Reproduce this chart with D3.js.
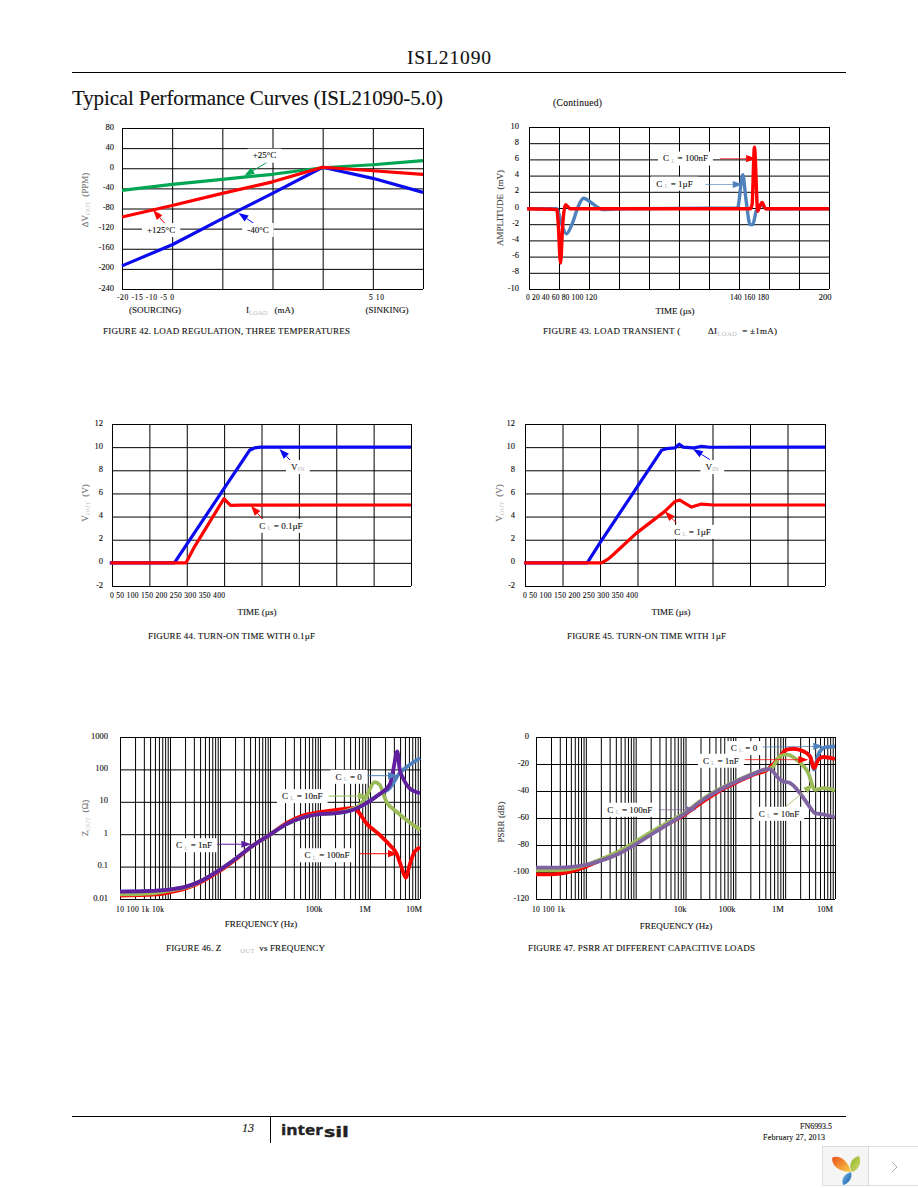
<!DOCTYPE html>
<html><head><meta charset="utf-8">
<script src="https://cdn.jsdelivr.net/npm/d3@7"></script>
<style>
html,body{margin:0;padding:0;background:#fff}
svg{display:block}
text{font-family:"Liberation Serif",serif;fill:#111;stroke:#111;stroke-width:.12}
</style></head><body>
<svg id="page" width="918" height="1188"></svg>
<script>
// ---- Figure 42: load regulation
const fig42Load = [-20,-15,-10,-5,0,5,10];
const fig42Blue = [-194,-152,-100,-50,2,-20,-48];
const fig42Red = [-97,-74,-50,-27,2,-5,-12];
const fig42Green = [-44,-32,-22,-12,1,7,15];
const fig42YTicks = [80,40,0,-40,-80,-120,-160,-200,-240];
const fig42Left = ["-20","-15","-10","-5","0"];
const fig42Right = ["5","10"];
const fig42Notes = [
 {label:"+25°C", s:"green", at:[-5.8,25], from:[-5.45,13], to:[-7.8,-15]},
 {label:"+125°C", s:"red", at:[-16.1,-123], from:[-15.6,-113], to:[-16.9,-83]},
 {label:"-40°C", s:"blue", at:[-6.45,-122.6], from:[-6.6,-113], to:[-8.4,-89]}
];
// ---- Figure 43: load transient
const fig43RedT = [-1.3,18.6,19.5,21,22.5,24.4,27.5,60,147.4,148.7,150.3,152.5,153,155.4,157.6,200];
const fig43RedV = [-0.1,-0.2,-2,-6.8,-2,0.4,-0.1,-0.1,-0.1,0.4,7.5,-0.4,-0.2,0.7,-0.1,-0.1];
const fig43BlueT = [-1.3,18.6,21.5,24.9,28.9,32.6,36.4,40.4,44.8,48.8,60,139,142.5,144.7,147.4,149.2,151.4,154.7,158,200];
const fig43BlueV = [-0.1,-0.1,-1.8,-3.2,-1.9,0.1,1.2,0.8,0.2,-0.2,-0.1,0,4.1,1,-2.05,-2.05,-0.4,0.4,-0.1,-0.1];
const fig43YTicks = [10,8,6,4,2,0,-2,-4,-6,-8,-10];
const fig43Row1 = ["0","20","40","60","80","100","120"];
const fig43Row2 = ["140","160","180"];
const fig43Row3 = ["200"];
const fig43Notes = [
 {cl:"100nF", s:"red", at:[104.3,6.1], from:[127.4,6.1], to:[151.4,6.1]},
 {cl:"1µF", s:"blue", at:[97,3], from:[117.6,2.9], to:[142.5,2.9]}
];
// ---- Figure 44: turn-on 0.1uF
const fig44BlueT = [-3,83.5,184,190.6,199,400];
const fig44BlueV = [0,0,9.73,9.93,10,10];
const fig44RedT = [-2,99,110.5,149.7,158.6,172.8,400];
const fig44RedV = [0,0,1.41,5.54,4.97,4.99,5];
const turnYTicks = [12,10,8,6,4,2,0,-2];
const turnRow = ["0","50","100","150","200","250","300","350","400"];
const fig44Notes = [
 {label:"VIN", sub:true, s:"blue", at:[248.6,8.28], from:[239.6,8.78], to:[224,9.84]},
 {cl:"0.1µF", s:"red", at:[226,3.2], from:[204,3.58], to:[186,4.94]}
];
// ---- Figure 45: turn-on 1uF
const fig45BlueT = [-1,83,99.7,182,188.6,199.8,205.6,211,224,235.4,246.5,400];
const fig45BlueV = [0,0,1.7,9.73,9.87,9.93,10.25,10,9.93,10.07,9.99,10];
const fig45RedT = [-1,102,110.8,117.5,148.6,186.4,199.8,206.5,213,222,235.4,251,400];
const fig45RedV = [0,0,0.32,0.7,2.57,4.45,5.3,5.43,5.17,4.82,5.08,5,5];
const fig45Notes = [
 {label:"VIN", sub:true, s:"blue", at:[249.6,8.28], from:[246.5,8.92], to:[224,9.84]},
 {cl:"1µF", s:"red", at:[223.4,2.68], from:[202,3.44], to:[186.4,4.45]}
];
// ---- Figure 46: Zout vs frequency
const fig46Common = [10,46,98,212,457,985,2120,4570,9850,21200,45700,98500,212000,457000];
const fig46PurpleZ = [0.0169,0.0177,0.0195,0.024,0.0387,0.0789,0.181,0.446,0.953,2.04,3.27,4.16,4.46,5.66];
const fig46PurpleTailF = [845000,1560000,2470000,2880000,3520000,3920000,4570000,6210000,10000000];
const fig46PurpleTailZ = [9.1,17.3,33.6,86.7,361,100,54,26,18.5];
const fig46BlueTailF = [845000,1560000,2470000,3920000,6210000,10000000];
const fig46BlueTailZ = [9.1,17.3,26.5,77,139,224];
const fig46GreenZ = [0.0139,0.015,0.0181,0.023,0.0387,0.0789,0.181,0.446,0.953,2.04,3.27,4.16,4.5,6.08];
const fig46GreenTailF = [575000,845000,1240000,1560000,2120000,3360000,10000000];
const fig46GreenTailZ = [7.18,14.6,40.6,33.6,10.2,5.02,1.36];
const fig46RedZ = [0.0127,0.0136,0.0161,0.0214,0.036,0.0734,0.173,0.446,0.953,2.19,3.78,4.79,5.66,6.37];
const fig46RedTailF = [575000,845000,1560000,2470000,3360000,4230000,5170000,6210000,7820000,10000000];
const fig46RedTailZ = [5.02,2.19,0.953,0.468,0.258,0.1,0.0457,0.113,0.291,0.387];
const fig46YTicks = [1000,100,10,1,0.1,0.01];
const fig46Row1 = ["10","100","1k","10k"];
const fig46Notes = [
 {cl:"0", s:"blue", at:[374000,59], from:[845000,64], to:[3630000,64]},
 {cl:"10nF", s:"green", at:[44300,15], from:[149000,15], to:[910000,15]},
 {cl:"1nF", s:"purple", at:[302,0.457], from:[845,0.49], to:[4230,0.49]},
 {cl:"100nF", s:"red", at:[138000,0.224], from:[621000,0.25], to:[3630000,0.25]}
];
// ---- Figure 47: PSRR
const fig47F = [10,20.3,40.6,99.5,222,480,1000,2240,4840,10000,22600,49000,99500,229000,437000];
const fig47Purple = [-96.7,-96.7,-96.5,-94.8,-91,-86.1,-79.4,-71.3,-63.8,-56.4,-46.5,-39.1,-33.4,-27.5,-23.8];
const fig47PurpleTailF = [494000,728000,916000,1250000,1980000,2910000,3960000,6300000,10000000];
const fig47PurpleTailV = [-23.8,-30.4,-32.9,-34.1,-41.6,-50.2,-56.4,-57.6,-59.6];
const fig47Green = [-98.7,-98.7,-98.2,-94.8,-89.8,-84.4,-77.4,-69.5,-62.6,-55.7,-45.8,-38.3,-32.9,-27,-23.8];
const fig47GreenTailF = [534000,786000,1070000,1700000,2910000,3960000,5830000,10000000];
const fig47GreenTailV = [-23,-14.3,-13.1,-16.8,-26.7,-39.1,-37.9,-39.6];
const fig47Red = [-101.7,-101.7,-100.4,-96,-90.5,-85.4,-78.7,-70.5,-63.6,-57.1,-47.7,-39.8,-34.1,-28,-24.2];
const fig47RedTailF = [624000,786000,991000,1070000,1450000,2310000,3150000,3780000,4620000,5830000,10000000];
const fig47RedTailV = [-18.6,-14.3,-10.1,-9.4,-8.7,-10.6,-14.3,-23,-16.8,-14.8,-16.3];
const fig47BlueTailF = [2310000,3150000,3780000,4620000,6300000,10000000];
const fig47BlueTailV = [-10.6,-14.3,-24.2,-13.1,-7.7,-6.9];
const fig47YTicks = [0,-20,-40,-60,-80,-100,-120];
const fig47Row1 = ["10","100","1k"];
const fig47Notes = [
 {cl:"0", s:"blue", at:[149000,-8.2], from:[327000,-7.4], to:[5830000,-6.9]},
 {cl:"1nF", s:"red", at:[51300,-17.6], from:[156000,-16.8], to:[2910000,-16.8]},
 {cl:"100nF", s:"purple", at:[762,-53.9], from:[2910,-53.9], to:[16600,-53.9]},
 {cl:"10nF", s:"green", at:[750000,-56.9], from:[944000,-52.7], to:[3670000,-34.9]}
];

const svg = d3.select("#page");
const zip = (xs, ys) => xs.map((x,i)=>[x,ys[i]]);

// rich text: segments are [string, "sub"|undefined]
function rich(x, y, segs, o={}){
  const size=o.size||8.5;
  const t = svg.append("text").attr("x",x).attr("y",y)
    .attr("text-anchor",o.anchor||"start").attr("font-size",size)
    .attr("xml:space","preserve");
  if(o.rotate) t.attr("transform",`rotate(-90 ${x} ${y})`);
  if(o.width) t.attr("textLength",o.width).attr("lengthAdjust","spacing");
  if(o.fill) t.style("fill",o.fill).style("stroke",o.fill);
  segs.forEach(s=>{
    const sp=t.append("tspan").text(s[0]);
    if(s[1]==="sub") sp.attr("font-size",size*0.75).style("fill","#bbb").style("stroke","none").attr("dy",1.5);
    else if(s[1]==="back") sp.attr("dy",-1.5);
  });
  return t;
}
function row(labels,x0,x1,y){
  rich(x0,y,[[labels.join(" ")]],{width:x1-x0,size:7.6});
}

function chart(c){
  const g = svg.append("g");
  const x = c.x, y = c.y;
  const [x0,x1]=x.range(), [y1,y0]=y.range();
  const gx = g.append("g").attr("transform",`translate(0,${y0})`)
    .call(d3.axisBottom(x).tickValues(c.xGrid).tickSize(-(y0-y1)).tickFormat(""));
  const gy = g.append("g").attr("transform",`translate(${x0},0)`)
    .call(d3.axisLeft(y).tickValues(c.yTicks).tickSize(-(x1-x0)).tickPadding(c.pad).tickFormat(c.yFmt||(d=>d)));
  g.selectAll(".domain").attr("stroke","#000");
  g.selectAll(".tick line").attr("stroke","#000").attr("stroke-width",1);
  gy.selectAll("text").attr("font-size",8.5).attr("font-family","Liberation Serif").attr("dy","0.12em").style("fill","#111");
  g.append("rect").attr("x",x0+.5).attr("y",y1+.5).attr("width",x1-x0).attr("height",y0-y1)
    .attr("fill","none").attr("stroke","#000");
  const line = d3.line().x(d=>x(d[0])).y(d=>y(d[1])).curve(c.curve||d3.curveLinear);
  c.series.forEach(s=>{
    g.append("path").attr("d",line(s.pts)).attr("fill","none").attr("stroke",s.color)
     .attr("stroke-width",c.lw||3).attr("stroke-linejoin","round");
  });
  (c.notes||[]).forEach(n=>{
    const col=c.colors[n.s];
    const [ax,ay]=[x(n.from[0]),y(n.from[1])], [bx,by]=[x(n.to[0]),y(n.to[1])];
    const ang=Math.atan2(by-ay,bx-ax), L=10, W=3.6;
    const hx=bx-L*Math.cos(ang), hy=by-L*Math.sin(ang);
    const px=-Math.sin(ang)*W, py=Math.cos(ang)*W;
    g.append("line").attr("x1",ax).attr("y1",ay).attr("x2",hx).attr("y2",hy)
      .attr("stroke",col).attr("stroke-width",1).attr("stroke-opacity",c.shaftOpacity||1);
    g.append("path").attr("d",`M${bx},${by}L${hx+px},${hy+py}L${hx-px},${hy-py}Z`).attr("fill",col);
    const lx=x(n.at[0]), ly=y(n.at[1]);
    let segs;
    if(n.cl) segs=[["C "],["L","sub"],[" = "+n.cl,"back"]];
    else if(n.sub) segs=[["V"],["IN","sub"]];
    else segs=[[n.label]];
    const t=rich(lx,ly+2.8,segs,{anchor:"middle",size:9});
    const b=t.node().getBBox();
    g.append("rect").attr("x",b.x-5).attr("y",ly-7).attr("width",b.width+10).attr("height",14).attr("fill","#fff");
    g.node().appendChild(t.node());
  });
  return g;
}
const decades = d3.range(1,7).flatMap(k=>d3.range(1,10).map(m=>m*Math.pow(10,k))).concat([1e7]);

const C1={blue:"#0a0af0",red:"#ff0000",green:"#00a651"};
chart({x:d3.scaleLinear([-20,10],[122,423]),y:d3.scaleLinear([-240,80],[289,128]),
  xGrid:fig42Load,yTicks:fig42YTicks,pad:8,lw:3.2,colors:C1,notes:fig42Notes,
  series:[{pts:zip(fig42Load,fig42Green),color:C1.green},{pts:zip(fig42Load,fig42Blue),color:C1.blue},{pts:zip(fig42Load,fig42Red),color:C1.red}]});
const C2={blue:"#4f81bd",red:"#ff0000"};
chart({x:d3.scaleLinear([0,200],[529,829]),y:d3.scaleLinear([-10,10],[289,127]),
  xGrid:d3.range(0,201,20),yTicks:fig43YTicks,pad:10,lw:3.4,colors:C2,notes:fig43Notes,shaftOpacity:.65,curve:d3.curveMonotoneX,
  series:[{pts:zip(fig43BlueT,fig43BlueV),color:C2.blue},{pts:zip(fig43RedT,fig43RedV),color:C2.red}]});
const C3={blue:"#0a0af0",red:"#ff0000"};
chart({x:d3.scaleLinear([0,400],[112,411]),y:d3.scaleLinear([-2,12],[586,424]),
  xGrid:d3.range(0,401,50),yTicks:turnYTicks,pad:9,lw:3.2,colors:C3,notes:fig44Notes,
  series:[{pts:zip(fig44BlueT,fig44BlueV),color:C3.blue},{pts:zip(fig44RedT,fig44RedV),color:C3.red}]});
chart({x:d3.scaleLinear([0,400],[525,825]),y:d3.scaleLinear([-2,12],[586,424]),
  xGrid:d3.range(0,401,50),yTicks:turnYTicks,pad:10,lw:3.2,colors:C3,notes:fig45Notes,
  series:[{pts:zip(fig45BlueT,fig45BlueV),color:C3.blue},{pts:zip(fig45RedT,fig45RedV),color:C3.red}]});
const C5={blue:"#4f81bd",red:"#ff0000",green:"#9bbb59",purple:"#5f1f9f"};
chart({x:d3.scaleLog([10,1e7],[120,420]),y:d3.scaleLog([0.01,1000],[899,737]),
  xGrid:decades,yTicks:fig46YTicks,yFmt:d=>String(d),pad:12,lw:3.8,colors:C5,notes:fig46Notes,curve:d3.curveMonotoneX,
  series:[
   {pts:zip(fig46Common,fig46PurpleZ).concat(zip(fig46BlueTailF,fig46BlueTailZ)),color:C5.blue},
   {pts:zip(fig46Common,fig46RedZ).concat(zip(fig46RedTailF,fig46RedTailZ)),color:C5.red},
   {pts:zip(fig46Common,fig46GreenZ).concat(zip(fig46GreenTailF,fig46GreenTailZ)),color:C5.green},
   {pts:zip(fig46Common,fig46PurpleZ).concat(zip(fig46PurpleTailF,fig46PurpleTailZ)),color:C5.purple}]});
const C6={blue:"#4f81bd",red:"#ff0000",green:"#9bbb59",purple:"#8064a2"};
chart({x:d3.scaleLog([10,1e7],[536,835]),y:d3.scaleLinear([-120,0],[899,737]),
  xGrid:decades,yTicks:fig47YTicks,pad:7,lw:3.8,colors:C6,notes:fig47Notes,shaftOpacity:.75,curve:d3.curveMonotoneX,
  series:[
   {pts:zip(fig47BlueTailF,fig47BlueTailV),color:C6.blue},
   {pts:zip(fig47F,fig47Red).concat(zip(fig47RedTailF,fig47RedTailV)),color:C6.red},
   {pts:zip(fig47F,fig47Green).concat(zip(fig47GreenTailF,fig47GreenTailV)),color:C6.green},
   {pts:zip(fig47F,fig47Purple).concat(zip(fig47PurpleTailF,fig47PurpleTailV)),color:C6.purple}]});

// tick rows
row(fig42Left,117,174,300); row(fig42Right,369,384,300);
row(fig43Row1,526,597,300); row(fig43Row2,730,769,300);
rich(825,300,[[fig43Row3[0]]],{anchor:"middle"});
row(turnRow,110,225,598); row(turnRow,523,638,598);
row(fig46Row1,116,164,912);
rich(314,912,[["100k"]],{anchor:"middle"}); rich(365,912,[["1M"]],{anchor:"middle"}); rich(414,912,[["10M"]],{anchor:"middle"});
row(fig47Row1,532,565,912);
rich(680,912,[["10k"]],{anchor:"middle"}); rich(727,912,[["100k"]],{anchor:"middle"});
rich(778,912,[["1M"]],{anchor:"middle"}); rich(825,912,[["10M"]],{anchor:"middle"});

// axis titles
rich(155,313,[["(SOURCING)"]],{anchor:"middle",size:9});
rich(270,313,[["I"],["LOAD","sub"],["   (mA)","back"]],{anchor:"middle",size:9});
rich(387,313,[["(SINKING)"]],{anchor:"middle",size:9});
rich(675,314,[["TIME (µs)"]],{anchor:"middle",size:9});
rich(257,615,[["TIME (µs)"]],{anchor:"middle",size:9});
rich(671,615,[["TIME (µs)"]],{anchor:"middle",size:9});
rich(261,927,[["FREQUENCY (Hz)"]],{anchor:"middle",size:9});
rich(676,929,[["FREQUENCY (Hz)"]],{anchor:"middle",size:9});
const gy="#777";
rich(88,200,[["ΔV"],["OUT","sub"],["  (PPM)","back"]],{anchor:"middle",rotate:true,fill:gy,size:9});
rich(503,208,[["AMPLITUDE  (mV)"]],{anchor:"middle",rotate:true,fill:"#444",size:9});
rich(88,503,[["V"],["OUT","sub"],["  (V)","back"]],{anchor:"middle",rotate:true,fill:gy,size:9});
rich(502,503,[["V"],["OUT","sub"],["  (V)","back"]],{anchor:"middle",rotate:true,fill:gy,size:9});
rich(88,818,[["Z"],["OUT","sub"],["  (Ω)","back"]],{anchor:"middle",rotate:true,fill:gy,size:9});
rich(504,822,[["PSRR (dB)"]],{anchor:"middle",rotate:true,fill:"#444",size:9});

// captions
rich(103,334,[["FIGURE 42. LOAD REGULATION, THREE TEMPERATURES"]],{width:247,size:9});
rich(543,334,[["FIGURE 43. LOAD TRANSIENT (           ΔI"],["LOAD","sub"],["  = ±1mA)","back"]],{width:234,size:9});
rich(148,639,[["FIGURE 44. TURN-ON TIME WITH 0.1µF"]],{width:167,size:9});
rich(567,639,[["FIGURE 45. TURN-ON TIME WITH 1µF"]],{width:159,size:9});
rich(166,951,[["FIGURE 46. Z        "],["OUT","sub"],["  vs FREQUENCY","back"]],{width:159,size:9});
rich(528,951,[["FIGURE 47. PSRR AT DIFFERENT CAPACITIVE LOADS"]],{width:227,size:9});

// page furniture
rich(407,64,[["ISL21090"]],{width:84,size:19.5});
svg.append("line").attr("x1",72).attr("x2",846).attr("y1",72.5).attr("y2",72.5).attr("stroke","#000");
rich(72,105,[["Typical Performance Curves (ISL21090-5.0)"]],{width:371,size:21});
rich(553,106,[["(Continued)"]],{width:49,size:9.5});
svg.append("line").attr("x1",72).attr("x2",846).attr("y1",1116.5).attr("y2",1116.5).attr("stroke","#000");
svg.append("line").attr("x1",270.5).attr("x2",270.5).attr("y1",1117).attr("y2",1143).attr("stroke","#000");
rich(242,1132,[["13"]],{size:12}).attr("font-style","italic");
const logo=(txt,x,y,w)=>svg.append("text").attr("x",x).attr("y",y).attr("textLength",w).attr("lengthAdjust","spacingAndGlyphs")
  .style("font-family","'Open Sans',sans-serif").style("font-weight",700).attr("font-size",15)
  .style("fill","#222").style("stroke","#222").style("stroke-width",.4).text(txt);
logo("inter",281,1135,42); logo("sil",324,1137,25);
rich(800,1129,[["FN6993.5"]],{width:32,size:8});
rich(763,1140,[["February 27, 2013"]],{width:62,size:8});

// corner widget
const w=svg.append("g");
w.append("rect").attr("x",822.5).attr("y",1146.5).attr("width",96).attr("height",39).attr("fill","#fff").attr("stroke","#ddd");
w.append("rect").attr("x",823).attr("y",1147).attr("width",45).attr("height",38).attr("fill","#f5f5f5");
w.append("line").attr("x1",868.5).attr("x2",868.5).attr("y1",1147).attr("y2",1185).attr("stroke","#ddd");
const defs=svg.append("defs");
const grad=(id,a,b)=>{const g=defs.append("linearGradient").attr("id",id).attr("x1",0).attr("y1",0).attr("x2",1).attr("y2",1);
  g.append("stop").attr("offset",0).attr("stop-color",a);g.append("stop").attr("offset",1).attr("stop-color",b);};
grad("lo","#e8501c","#fbd24c");grad("lg","#8fb32c","#d5dd6a");grad("lb","#7fc0ea","#0b55a8");
w.append("path").attr("d","M832,1158C838,1154 848,1160 851,1172C842,1172 832,1168 832,1158Z").attr("fill","url(#lo)");
w.append("path").attr("d","M859,1156C862,1162 859,1170 852,1172C848,1166 851,1158 859,1156Z").attr("fill","url(#lg)");
w.append("path").attr("d","M851,1172C853,1178 848,1184 843,1185C841,1179 844,1174 851,1172Z").attr("fill","url(#lb)");
w.append("path").attr("d","M892,1162L897,1167L892,1172").attr("fill","none").attr("stroke","#aaa");
</script>
</body></html>
